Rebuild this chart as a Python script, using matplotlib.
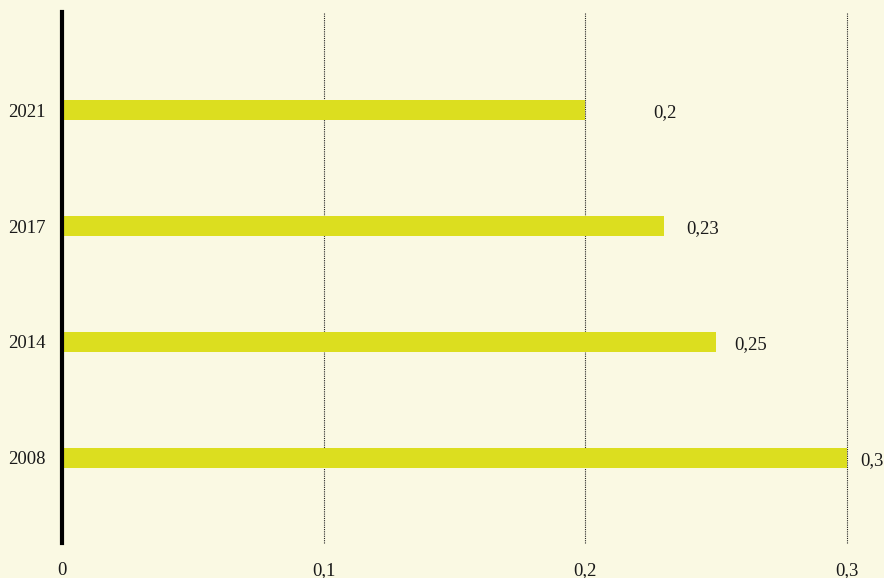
import matplotlib.pyplot as plt

# data
years = ['2008', '2014', '2017', '2021']
values = [0.3, 0.25, 0.23, 0.2]
value_labels = ['0,3', '0,25', '0,23', '0,2']
label_x = [0.3095, 0.263, 0.245, 0.2305]
x_ticks = [0, 0.1, 0.2, 0.3]
x_tick_labels = ['0', '0,1', '0,2', '0,3']

bg = '#faf9e3'
bar_color = '#dcde1f'

plt.rcParams['font.family'] = ['Liberation Serif', 'DejaVu Serif']

fig = plt.figure(figsize=(8.84, 5.78), dpi=100, facecolor=bg)
ax = fig.add_axes([62 / 884, 35 / 578, 785 / 884, 531 / 578])
ax.set_facecolor(bg)

pos = list(range(len(years)))
ax.barh(pos, values, height=0.18, color=bar_color, zorder=2)

for p, lx, txt in zip(pos, label_x, value_labels):
    ax.text(lx, p - 0.02, txt, ha='center', va='center', fontsize=13.5,
            color='#1a1a1a', clip_on=False)

ax.set_xlim(0, 0.3)
ax.set_ylim(-0.733, 3.845)
ax.set_xticks(x_ticks)
ax.set_xticklabels(x_tick_labels, fontsize=13.5, color='#1a1a1a')
ax.set_yticks(pos)
ax.set_yticklabels(years, fontsize=13.5, color='#1a1a1a')
ax.tick_params(axis='x', length=0, pad=14)
ax.tick_params(axis='y', length=0, pad=12)

ax.grid(axis='x', color='#222222', linestyle=(0, (1, 1)), linewidth=0.8, zorder=1)
for line in ax.get_xgridlines():
    line.set_clip_on(False)
for s in ['top', 'right', 'bottom']:
    ax.spines[s].set_visible(False)
ax.spines['left'].set_linewidth(3)
ax.spines['left'].set_zorder(3)

fig.savefig('out.png', dpi=100, facecolor=bg)
